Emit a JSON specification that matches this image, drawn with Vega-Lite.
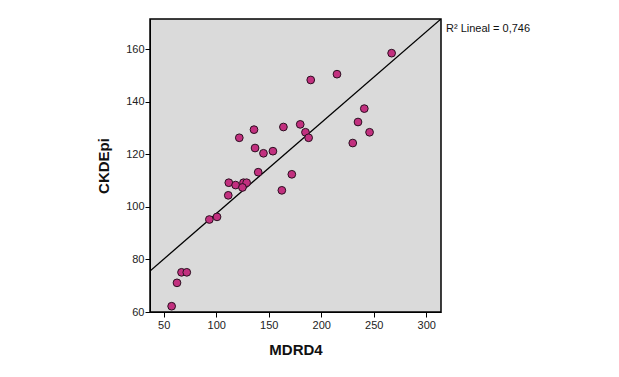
{
  "$schema": "https://vega.github.io/schema/vega-lite/v6.json",
  "autosize": {"type": "none"},
  "width": 291,
  "height": 293,
  "padding": {"left": 150, "top": 19, "right": 178, "bottom": 65},
  "background": "white",
  "config": {
    "view": {"fill": "#DADADA", "stroke": "#000000", "strokeWidth": 1.5},
    "font": "Liberation Sans",
    "axis": {
      "labelFont": "Liberation Sans",
      "labelFontSize": 11,
      "labelColor": "#222222",
      "titleFont": "Liberation Sans",
      "titleFontSize": 15,
      "titleFontWeight": "bold",
      "titleColor": "#111111",
      "domainColor": "#000000",
      "tickColor": "#000000",
      "tickSize": 5,
      "grid": false
    }
  },
  "datasets": {
    "pts": [
      {"MDRD4": 267, "CKDEpi": 158.5},
      {"MDRD4": 215, "CKDEpi": 150.5},
      {"MDRD4": 190, "CKDEpi": 148.3},
      {"MDRD4": 241, "CKDEpi": 137.4},
      {"MDRD4": 235, "CKDEpi": 132.3},
      {"MDRD4": 246, "CKDEpi": 128.4},
      {"MDRD4": 230, "CKDEpi": 124.3},
      {"MDRD4": 122, "CKDEpi": 126.3},
      {"MDRD4": 136, "CKDEpi": 129.4},
      {"MDRD4": 164, "CKDEpi": 130.4},
      {"MDRD4": 180, "CKDEpi": 131.4},
      {"MDRD4": 185, "CKDEpi": 128.4},
      {"MDRD4": 188, "CKDEpi": 126.3},
      {"MDRD4": 137, "CKDEpi": 122.4},
      {"MDRD4": 145, "CKDEpi": 120.4},
      {"MDRD4": 154, "CKDEpi": 121.2},
      {"MDRD4": 140, "CKDEpi": 113.2},
      {"MDRD4": 172, "CKDEpi": 112.4},
      {"MDRD4": 112, "CKDEpi": 109.2},
      {"MDRD4": 118.5, "CKDEpi": 108.3},
      {"MDRD4": 126, "CKDEpi": 109.2},
      {"MDRD4": 129, "CKDEpi": 109.2},
      {"MDRD4": 125, "CKDEpi": 107.4},
      {"MDRD4": 111.5, "CKDEpi": 104.4},
      {"MDRD4": 162.5, "CKDEpi": 106.3},
      {"MDRD4": 93.5, "CKDEpi": 95.2},
      {"MDRD4": 100.8, "CKDEpi": 96.2},
      {"MDRD4": 67, "CKDEpi": 75.1},
      {"MDRD4": 72, "CKDEpi": 75.1},
      {"MDRD4": 62.7, "CKDEpi": 71.1},
      {"MDRD4": 57.6, "CKDEpi": 62.2}
    ],
    "fit": [
      {"MDRD4": 37, "CKDEpi": 75.6},
      {"MDRD4": 314, "CKDEpi": 171.5}
    ],
    "lbl": [
      {"MDRD4": 314, "CKDEpi": 167.6, "text": "R² Lineal = 0,746"}
    ]
  },
  "encoding": {
    "x": {
      "field": "MDRD4", "type": "quantitative",
      "scale": {"domain": [37, 314], "nice": false, "zero": false},
      "axis": {"values": [50, 100, 150, 200, 250, 300], "title": "MDRD4", "titlePadding": 12, "labelPadding": 2}
    },
    "y": {
      "field": "CKDEpi", "type": "quantitative",
      "scale": {"domain": [60, 171.5], "nice": false, "zero": false},
      "axis": {"values": [60, 80, 100, 120, 140, 160], "title": "CKDEpi", "titlePadding": 14, "labelPadding": 1}
    }
  },
  "layer": [
    {
      "data": {"name": "fit"},
      "mark": {"type": "line", "color": "#000000", "strokeWidth": 1.3, "clip": true}
    },
    {
      "data": {"name": "pts"},
      "mark": {"type": "point", "shape": "circle", "filled": true, "size": 60, "fill": "#C2307F", "stroke": "#2A1020", "strokeWidth": 1, "opacity": 1}
    },
    {
      "data": {"name": "lbl"},
      "mark": {"type": "text", "align": "left", "baseline": "middle", "dx": 5, "fontSize": 11, "font": "Liberation Sans", "color": "#111111", "clip": false},
      "encoding": {"text": {"field": "text"}}
    }
  ]
}
